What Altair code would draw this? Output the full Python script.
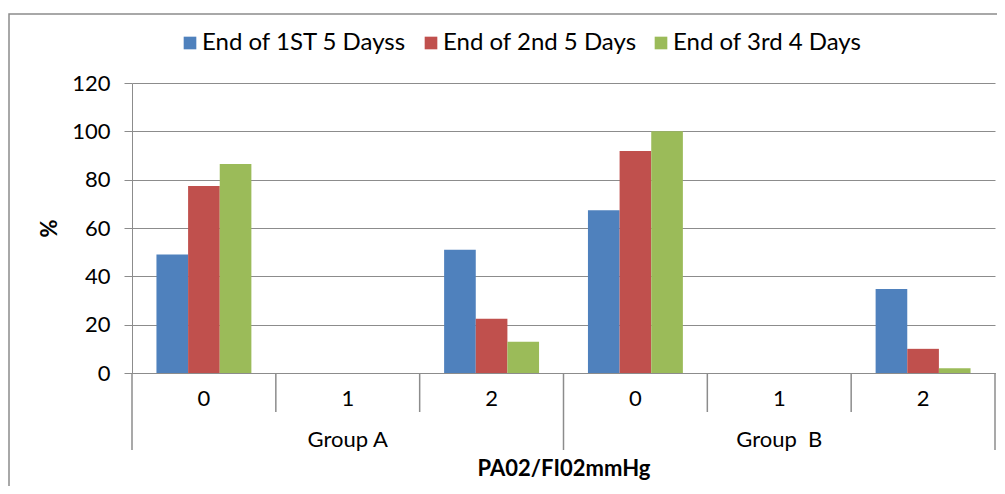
import altair as alt
import pandas as pd

groups = ["Group A", "Group A", "Group A", "Group\u00a0 B", "Group\u00a0 B", "Group\u00a0 B"]
levels = ["0", "1", "2", "0", "1", "2"]
series = ["End of 1ST 5 Dayss", "End of 2nd 5 Days", "End of 3rd 4 Days"]
s1 = [49, 0, 51, 67.3, 0, 34.8]
s2 = [77.4, 0, 22.4, 91.9, 0, 10]
s3 = [86.5, 0, 12.9, 100, 0, 2]
colors = ["#4F81BD", "#C0504D", "#9BBB59"]

cats = [f"{g}|{l}" for g, l in zip(groups, levels)]
rows = []
for sname, vals in zip(series, [s1, s2, s3]):
    for c, v in zip(cats, vals):
        rows.append({"cat": c, "series": sname, "value": v})
df = pd.DataFrame(rows)

W, H = 863, 290
FONT = "Lato"
FS = 22
GRID = "#8c8c8c"

bars = alt.Chart(df).mark_bar().encode(
    x=alt.X("cat:N", sort=cats,
            scale=alt.Scale(domain=cats, paddingInner=0.34, paddingOuter=0.17),
            axis=alt.Axis(title="PA02/FI02mmHg", labelExpr="split(datum.label, '|')[1]",
                          labelAngle=0, ticks=False, labelPadding=15, labelFontSize=FS,
                          labelFont=FONT, labelColor="#000", domainColor=GRID,
                          titleFont=FONT, titleFontSize=FS, titleFontWeight="bold",
                          titleColor="#000", titlePadding=49)),
    xOffset=alt.XOffset("series:N", sort=series,
                        scale=alt.Scale(domain=series, paddingInner=0, paddingOuter=0)),
    y=alt.Y("value:Q", scale=alt.Scale(domain=[0, 120]),
            axis=alt.Axis(title="%", values=[0, 20, 40, 60, 80, 100, 120], tickSize=8,
                          tickColor=GRID, domainColor=GRID, gridColor=GRID,
                          labelFont=FONT, labelFontSize=FS, labelColor="#000",
                          labelPadding=14, titleFont=FONT, titleFontSize=FS,
                          titleFontWeight="bold", titleColor="#000", titlePadding=10)),
    color=alt.Color("series:N", sort=series,
                    scale=alt.Scale(domain=series, range=colors),
                    legend=alt.Legend(title=None, orient="none", direction="horizontal",
                                      legendX=46, legendY=-52, symbolType="square",
                                      symbolSize=160, symbolStrokeWidth=0, labelFont=FONT,
                                      labelFontSize=24, labelColor="#000", labelOffset=0,
                                      labelLimit=0, columnPadding=12)),
)

band_scale = alt.Scale(domain=cats, paddingInner=0, paddingOuter=0)

inner_df = pd.DataFrame({"cat": [cats[1], cats[2], cats[4], cats[5]]})
inner_rules = alt.Chart(inner_df).mark_rule(color=GRID, strokeWidth=1.5).encode(
    x=alt.X("cat:N", scale=band_scale, bandPosition=0, axis=None),
    y=alt.value(H), y2=alt.value(H + 39))

outer_start_df = pd.DataFrame({"cat": [cats[0], cats[3]]})
outer_start = alt.Chart(outer_start_df).mark_rule(color=GRID, strokeWidth=1.5).encode(
    x=alt.X("cat:N", scale=band_scale, bandPosition=0, axis=None),
    y=alt.value(H), y2=alt.value(H + 77))

outer_end_df = pd.DataFrame({"cat": [cats[5]]})
outer_end = alt.Chart(outer_end_df).mark_rule(color=GRID, strokeWidth=1.5).encode(
    x=alt.X("cat:N", scale=band_scale, bandPosition=1, axis=None),
    y=alt.value(H), y2=alt.value(H + 77))

grp_df = pd.DataFrame({"cat": [cats[1], cats[4]], "label": [groups[1], groups[4]]})
grp_text = alt.Chart(grp_df).mark_text(font=FONT, fontSize=FS, color="#000",
                                       baseline="middle").encode(
    x=alt.X("cat:N", scale=band_scale, axis=None),
    y=alt.value(H + 67), text="label:N")

frame = alt.Chart(pd.DataFrame({"k": [0]})).mark_rect(
    fill=None, stroke=GRID, strokeWidth=1.5).encode(
    x=alt.value(-123), x2=alt.value(W + 20), y=alt.value(-69), y2=alt.value(H + 140))

chart = alt.layer(frame, bars, inner_rules, outer_start, outer_end, grp_text).resolve_scale(
    x="independent").properties(
    width=W, height=H, autosize=alt.AutoSizeParams(type="none"),
    padding={"left": 124, "top": 75, "right": 2, "bottom": 113},
).configure_view(stroke=None).configure_axis(grid=True).configure_axisX(grid=False)

chart.save("out.html", embed_options={"renderer": "svg", "actions": False})
